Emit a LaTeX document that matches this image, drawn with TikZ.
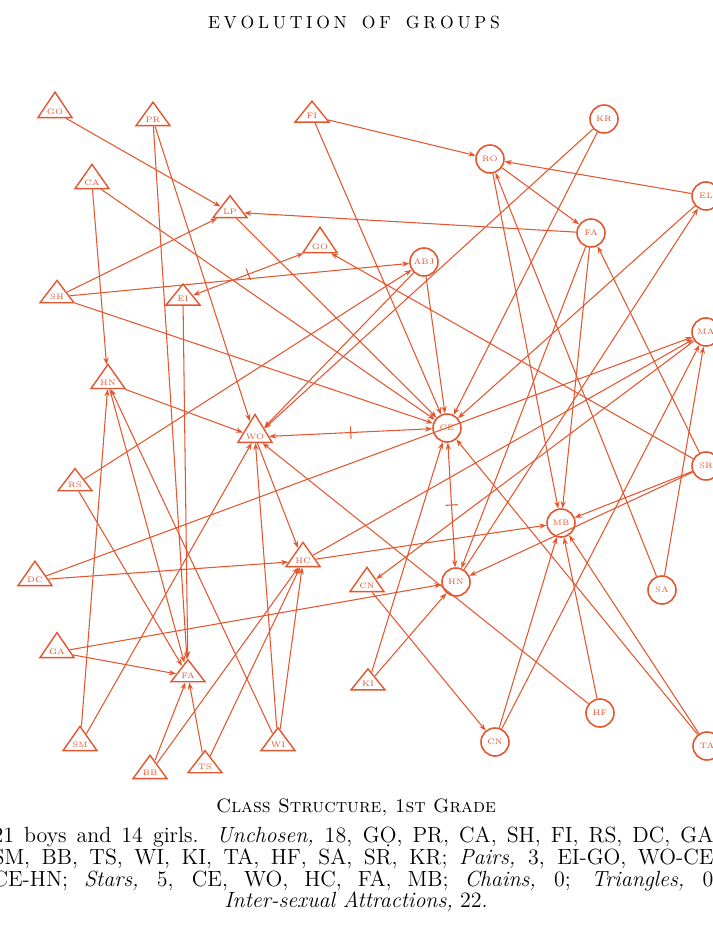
\documentclass[tikz,border=0pt]{standalone}
\usepackage{fontspec}
\usepackage{tikz}
\usetikzlibrary{arrows.meta,shapes.geometric}
\definecolor{ink}{RGB}{228,86,48}

\begin{document}
\begin{tikzpicture}[x=0.02cm, y=-0.02cm, >={Stealth[length=4pt,width=3pt]},
  boy/.style={draw=ink, text=ink, isosceles triangle, isosceles triangle stretches, shape border rotate=90, minimum width=0.68cm, minimum height=0.42cm, inner sep=0pt, line width=0.8pt, font=\fontsize{4.5}{5}\selectfont},
  girl/.style={draw=ink, text=ink, circle, minimum size=0.56cm, inner sep=0pt, line width=0.9pt, font=\fontsize{4.5}{5}\selectfont},
  pick/.style={->, ink, line width=0.6pt},
  pair/.style={<->, ink, line width=0.6pt},
  bar/.style={draw=ink, sloped, minimum width=0pt, minimum height=7pt, inner sep=0pt}]
\useasboundingbox (0,0) rectangle (713,931);

% boys
\node (go1) [boy] at (55,112) {GO};
\node (pr) [boy] at (153,120) {PR};
\node (fi) [boy] at (312,116) {FI};
\node (ca) [boy] at (92,183) {CA};
\node (lp) [boy] at (230,212) {LP};
\node (go) [boy] at (320,247) {GO};
\node (sh) [boy] at (57,297) {SH};
\node (ei) [boy] at (183,299) {EI};
\node (hnb) [boy] at (108,383) {HN};
\node (wo) [boy] at (255,437) {WO};
\node (rs) [boy] at (75,485) {RS};
\node (dc) [boy] at (35,580) {DC};
\node (hc) [boy] at (303,561) {HC};
\node (cnb) [boy] at (367,586) {CN};
\node (ga) [boy] at (57,652) {GA};
\node (fab) [boy] at (188,676) {FA};
\node (ki) [boy] at (368,684) {KI};
\node (sm) [boy] at (80,745) {SM};
\node (bb) [boy] at (150,773) {BB};
\node (ts) [boy] at (205,767) {TS};
\node (wi) [boy] at (278,745) {WI};

% girls
\node (kr) [girl] at (604,119) {KR};
\node (ro) [girl] at (490,159) {RO};
\node (el) [girl] at (706,196) {EL};
\node (fag) [girl] at (591,233) {FA};
\node (abj) [girl] at (424,262) {ABJ};
\node (ma) [girl] at (706,332) {MA};
\node (ce) [girl] at (447,428) {CE};
\node (sr) [girl] at (706,466) {SR};
\node (mb) [girl] at (561,523) {MB};
\node (hng) [girl] at (456,582) {HN};
\node (sa) [girl] at (662,590) {SA};
\node (hf) [girl] at (600,713) {HF};
\node (cng) [girl] at (495,742) {CN};
\node (ta) [girl] at (707,746) {TA};

% choices
\draw[pick] (go1) -- (lp);
\draw[pick] (pr) -- (fab);
\draw[pick] (pr) -- (wo);
\draw[pick] (fi) -- (ro);
\draw[pick] (fi) -- (ce);
\draw[pick] (kr) -- (wo);
\draw[pick] (kr) -- (ce);
\draw[pick] (el) -- (ro);
\draw[pick] (el) -- (ce);
\draw[pick] (ro) -- (fag);
\draw[pick] (ro) -- (mb);
\draw[pick] (fag) -- (lp);
\draw[pick] (fag) -- (mb);
\draw[pick] (fag) -- (hng);
\draw[pick] (ca) -- (hnb);
\draw[pick] (ca) -- (ce);
\draw[pick] (lp) -- (ce);
\draw[pick] (sh) -- (lp);
\draw[pick] (sh) -- (abj);
\draw[pick] (sh) -- (ce);
\draw[pick] (ei) -- (fab);
\draw[pick] (sr) -- (go);
\draw[pick] (sr) -- (mb);
\draw[pick] (sr) -- (fag);
\draw[pick] (sr) -- (hng);
\draw[pick] (abj) -- (wo);
\draw[pick] (abj) -- (ce);
\draw[pick] (rs) -- (abj);
\draw[pick] (rs) -- (fab);
\draw[pick] (hnb) -- (wo);
\draw[pick] (hnb) -- (fab);
\draw[pick] (sm) -- (hnb);
\draw[pick] (sm) -- (wo);
\draw[pick] (wi) -- (hnb);
\draw[pick] (wi) -- (wo);
\draw[pick] (wi) -- (hc);
\draw[pick] (bb) -- (fab);
\draw[pick] (bb) -- (hc);
\draw[pick] (ts) -- (fab);
\draw[pick] (ts) -- (hc);
\draw[pick] (ga) -- (fab);
\draw[pick] (ga) -- (hng);
\draw[pick] (dc) -- (hc);
\draw[pick] (dc) -- (ma);
\draw[pick] (hc) -- (mb);
\draw[pick] (hc) -- (ma);
\draw[pick] (wo) -- (hc);
\draw[pick] (hf) -- (wo);
\draw[pick] (hf) -- (mb);
\draw[pick] (hng) -- (el);
\draw[pick] (ki) -- (hng);
\draw[pick] (ki) -- (ce);
\draw[pick] (cnb) -- (cng);
\draw[pick] (ma) -- (cnb);
\draw[pick] (cng) -- (mb);
\draw[pick] (cng) -- (ma);
\draw[pick] (sa) -- (ro);
\draw[pick] (sa) -- (ma);
\draw[pick] (ta) -- (ce);
\draw[pick] (ta) -- (mb);

% pairs
\draw[pair] (ei) -- node[bar] {} (go);
\draw[pair] (wo) -- node[bar] {} (ce);
\draw[pair] (ce) -- node[bar] {} (hng);

% text
\node (title) at (354,22) {\fontsize{10}{12}\selectfont\makebox[5.84cm][s]{E\hfill V\hfill O\hfill L\hfill U\hfill T\hfill I\hfill O\hfill N\hfill\hfill\hfill\hfill O\hfill F\hfill\hfill\hfill\hfill G\hfill R\hfill O\hfill U\hfill P\hfill S}};
\node (cap) at (356,808) {\fontsize{11}{13}\selectfont\textsc{Class Structure, 1st Grade}};
\node (line1) at (356,837) {\fontsize{12.5}{14}\selectfont\makebox[14.54cm][s]{21 boys and 14 girls. \textit{Unchosen,} 18, G\d{O}, PR, CA, SH, FI, RS, DC, GA,}};
\node (line2) at (356,859) {\fontsize{12.5}{14}\selectfont\makebox[14.54cm][s]{SM, BB, TS, WI, KI, TA, HF, SA, SR, KR; \textit{Pairs,} 3, EI-GO, WO-CE,}};
\node (line3) at (356,881) {\fontsize{12.5}{14}\selectfont\makebox[14.54cm][s]{CE-HN; \textit{Stars,} 5, CE, WO, HC, FA, MB; \textit{Chains,} 0; \textit{Triangles,} 0;}};
\node (line4) at (356,902) {\fontsize{12.5}{14}\selectfont\textit{Inter-sexual Attractions,} 22.};
\end{tikzpicture}
\end{document}
